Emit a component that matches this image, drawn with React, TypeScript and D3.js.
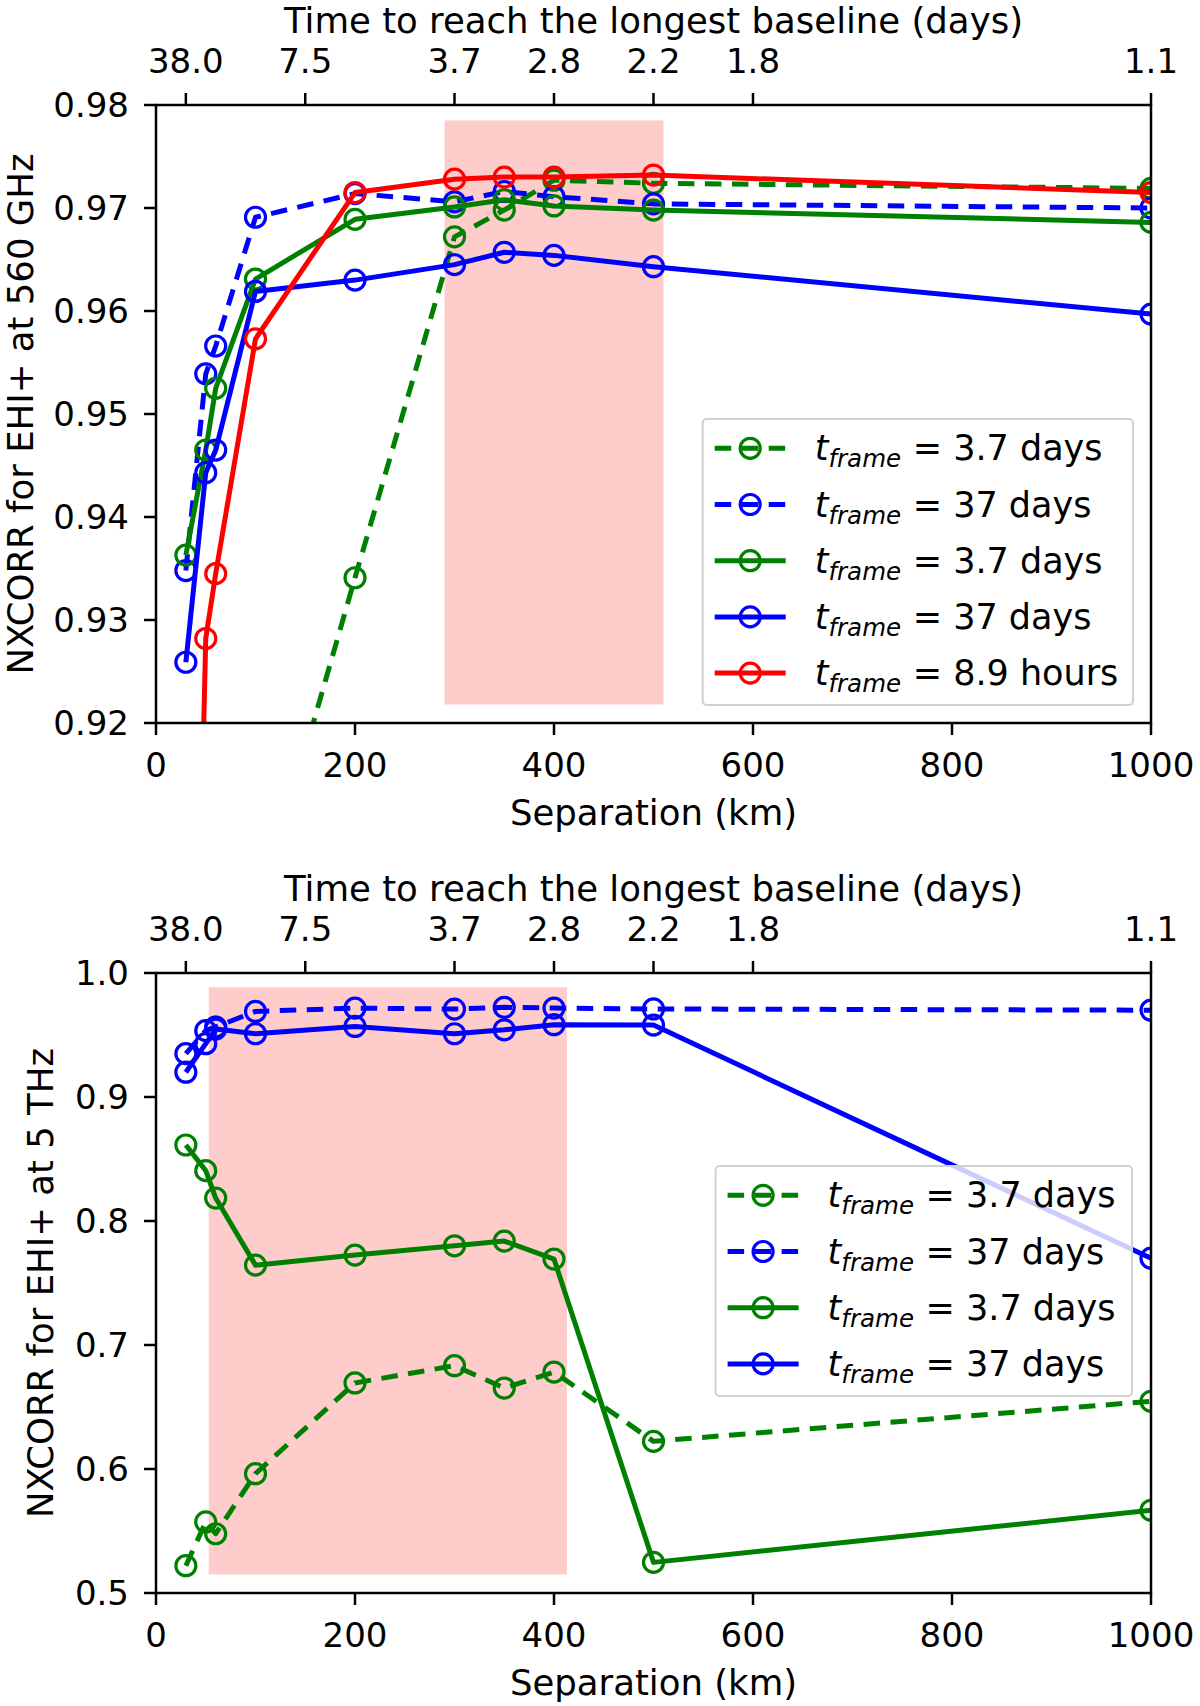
// @ts-nocheck
import { useEffect, useRef } from "react"
import * as d3 from "d3"

// separations (km) where every series was sampled
const separation = [30, 50, 60, 100, 200, 300, 350, 400, 500, 1000]

// secondary (top) axis: time to reach the longest baseline
const timeTicks = [30, 150, 300, 400, 500, 600, 1000]
const timeTickLabels = ["38.0", "7.5", "3.7", "2.8", "2.2", "1.8", "1.1"]

const sepTicks = [0, 200, 400, 600, 800, 1000]

// EHI+ at 560 GHz
const ghzGreenDashed = [0.86, 0.87, 0.88, 0.9005, 0.9341, 0.9672, 0.9698, 0.9727, 0.9724, 0.9719]
const ghzBlueDashed = [0.9348, 0.9539, 0.9566, 0.9691, 0.9714, 0.9706, 0.9716, 0.9711, 0.9704, 0.97]
const ghzGreenSolid = [0.9363, 0.9465, 0.9525, 0.9631, 0.9689, 0.9701, 0.9708, 0.9702, 0.9698, 0.9686]
const ghzBlueSolid = [0.9259, 0.9443, 0.9465, 0.9619, 0.963, 0.9645, 0.9657, 0.9654, 0.9643, 0.9597]
const ghzRed = [0.846, 0.9282, 0.9345, 0.9573, 0.9715, 0.9728, 0.973, 0.973, 0.9732, 0.9715]
const ghzTicks = [0.92, 0.93, 0.94, 0.95, 0.96, 0.97, 0.98]

// EHI+ at 5 THz
const thzGreenDashed = [0.522, 0.5573, 0.5478, 0.5962, 0.6694, 0.6833, 0.6653, 0.6782, 0.6223, 0.6546]
const thzBlueDashed = [0.935, 0.9535, 0.9565, 0.969, 0.9717, 0.9709, 0.9723, 0.9717, 0.971, 0.97]
const thzGreenSolid = [0.8613, 0.8406, 0.8185, 0.7644, 0.7725, 0.78, 0.7838, 0.7693, 0.5247, 0.5667]
const thzBlueSolid = [0.92, 0.943, 0.9548, 0.951, 0.9569, 0.951, 0.9542, 0.9583, 0.958, 0.77]
const thzTicks = [0.5, 0.6, 0.7, 0.8, 0.9, 1.0]

const FONT = "DejaVu Sans"
const FS_TICK = 34
const FS_LABEL = 35.5
const FS_LEGEND = 35
const GREEN = "#008000"
const BLUE = "#0000ff"
const RED = "#ff0000"
const DASH = "16.5 10.5"
const LW = 5
const MR = 10

const panels = [
  {
    id: "ghz",
    top: 105,
    bottom: 723,
    yDomain: [0.92, 0.98],
    yTicks: ghzTicks,
    yFormat: d3.format(".2f"),
    ylabel: "NXCORR for EHI+ at 560 GHz",
    ylabelX: 33,
    shade: { x0: 290, x1: 510, y0: 0.9218, y1: 0.9785 },
    series: [
      { values: ghzGreenDashed, color: GREEN, dashed: true, label: "3.7 days" },
      { values: ghzBlueDashed, color: BLUE, dashed: true, label: "37 days" },
      { values: ghzGreenSolid, color: GREEN, dashed: false, label: "3.7 days" },
      { values: ghzBlueSolid, color: BLUE, dashed: false, label: "37 days" },
      { values: ghzRed, color: RED, dashed: false, label: "8.9 hours" },
    ],
    legend: { x: 702.7, y: 419, w: 430.3, h: 286 },
  },
  {
    id: "thz",
    top: 973,
    bottom: 1593,
    yDomain: [0.5, 1.0],
    yTicks: thzTicks,
    yFormat: d3.format(".1f"),
    ylabel: "NXCORR for EHI+ at 5 THz",
    ylabelX: 53,
    shade: { x0: 53, x1: 413, y0: 0.515, y1: 0.9885 },
    series: [
      { values: thzGreenDashed, color: GREEN, dashed: true, label: "3.7 days" },
      { values: thzBlueDashed, color: BLUE, dashed: true, label: "37 days" },
      { values: thzGreenSolid, color: GREEN, dashed: false, label: "3.7 days" },
      { values: thzBlueSolid, color: BLUE, dashed: false, label: "37 days" },
    ],
    legend: { x: 715.6, y: 1166, w: 416.4, h: 230 },
  },
]

function drawPanel(svg, p) {
  const left = 156
  const right = 1151
  const x = d3.scaleLinear().domain([0, 1000]).range([left, right])
  const y = d3.scaleLinear().domain(p.yDomain).range([p.bottom, p.top])

  const clipId = `clip-${p.id}`
  svg
    .append("clipPath")
    .attr("id", clipId)
    .append("rect")
    .attr("x", left)
    .attr("y", p.top)
    .attr("width", right - left)
    .attr("height", p.bottom - p.top)

  const plot = svg.append("g").attr("clip-path", `url(#${clipId})`)

  // shaded band
  plot
    .append("rect")
    .attr("x", x(p.shade.x0))
    .attr("y", y(p.shade.y1))
    .attr("width", x(p.shade.x1) - x(p.shade.x0))
    .attr("height", y(p.shade.y0) - y(p.shade.y1))
    .attr("fill", "#ffcccc")

  const line = d3
    .line()
    .x((d) => x(d[0]))
    .y((d) => y(d[1]))

  p.series.forEach((s) => {
    const pts = separation.map((sep, i) => [sep, s.values[i]])
    plot
      .append("path")
      .attr("d", line(pts))
      .attr("fill", "none")
      .attr("stroke", s.color)
      .attr("stroke-width", LW)
      .attr("stroke-dasharray", s.dashed ? DASH : null)
      .attr("stroke-linejoin", "round")
    plot
      .append("g")
      .selectAll("circle")
      .data(pts)
      .join("circle")
      .attr("cx", (d) => x(d[0]))
      .attr("cy", (d) => y(d[1]))
      .attr("r", MR)
      .attr("fill", "none")
      .attr("stroke", s.color)
      .attr("stroke-width", 3.2)
  })

  // spines
  svg
    .append("rect")
    .attr("x", left)
    .attr("y", p.top)
    .attr("width", right - left)
    .attr("height", p.bottom - p.top)
    .attr("fill", "none")
    .attr("stroke", "black")
    .attr("stroke-width", 2.5)

  const txt = (g, fs) => g.attr("font-family", FONT).attr("font-size", fs).attr("fill", "black")

  // bottom axis
  sepTicks.forEach((t) => {
    svg.append("line").attr("x1", x(t)).attr("x2", x(t)).attr("y1", p.bottom).attr("y2", p.bottom + 12)
      .attr("stroke", "black").attr("stroke-width", 2.5)
    svg.append("text").call(txt, FS_TICK).attr("x", x(t)).attr("y", p.bottom + 54).attr("text-anchor", "middle").text(t)
  })
  svg.append("text").call(txt, FS_LABEL).attr("x", (left + right) / 2).attr("y", p.bottom + 102)
    .attr("text-anchor", "middle").text("Separation (km)")

  // top axis
  timeTicks.forEach((t, i) => {
    svg.append("line").attr("x1", x(t)).attr("x2", x(t)).attr("y1", p.top).attr("y2", p.top - 12)
      .attr("stroke", "black").attr("stroke-width", 2.5)
    svg.append("text").call(txt, FS_TICK).attr("x", x(t)).attr("y", p.top - 32).attr("text-anchor", "middle")
      .text(timeTickLabels[i])
  })
  svg.append("text").call(txt, FS_LABEL).attr("x", (left + right) / 2).attr("y", p.top - 72)
    .attr("text-anchor", "middle").text("Time to reach the longest baseline (days)")

  // left axis
  p.yTicks.forEach((t) => {
    svg.append("line").attr("x1", left).attr("x2", left - 12).attr("y1", y(t)).attr("y2", y(t))
      .attr("stroke", "black").attr("stroke-width", 2.5)
    svg.append("text").call(txt, FS_TICK).attr("x", 129).attr("y", y(t) + 12.4).attr("text-anchor", "end")
      .text(p.yFormat(t))
  })
  svg.append("text").call(txt, FS_LABEL)
    .attr("transform", `translate(${p.ylabelX},${(p.top + p.bottom) / 2}) rotate(-90)`)
    .attr("text-anchor", "middle").text(p.ylabel)

  // legend
  const L = p.legend
  const lg = svg.append("g")
  lg.append("rect").attr("x", L.x).attr("y", L.y).attr("width", L.w).attr("height", L.h)
    .attr("rx", 4).attr("fill", "white").attr("fill-opacity", 0.8)
    .attr("stroke", "#d0d0d0").attr("stroke-width", 2)
  p.series.forEach((s, i) => {
    const cy = L.y + 29.3 + i * 56.2
    lg.append("line").attr("x1", L.x + 12).attr("x2", L.x + 83).attr("y1", cy).attr("y2", cy)
      .attr("stroke", s.color).attr("stroke-width", LW).attr("stroke-dasharray", s.dashed ? DASH : null)
    lg.append("circle").attr("cx", L.x + 47.5).attr("cy", cy).attr("r", MR)
      .attr("fill", "none").attr("stroke", s.color).attr("stroke-width", 3.2)
    const t = lg.append("text").call(txt, FS_LEGEND).attr("y", cy + 12)
    t.append("tspan").attr("x", L.x + 112).attr("font-style", "italic").text("t")
    t.append("tspan").attr("font-style", "italic").attr("font-size", FS_LEGEND * 0.7).attr("dy", 7).text("frame")
    t.append("tspan").attr("x", L.x + 210).attr("dy", -7).text(`= ${s.label}`)
  })
}

export default function App() {
  const svgRef = useRef(null)

  useEffect(() => {
    if (!svgRef.current) return
    const svg = d3.select(svgRef.current)
    svg.selectAll("*").remove()
    panels.forEach((p) => drawPanel(svg, p))
  }, [])

  return (
    <div style={{ position: "absolute", left: 0, top: 0, width: 1200, height: 1706, background: "white" }}>
      <svg ref={svgRef} width={1200} height={1706} style={{ display: "block" }} />
    </div>
  )
}
